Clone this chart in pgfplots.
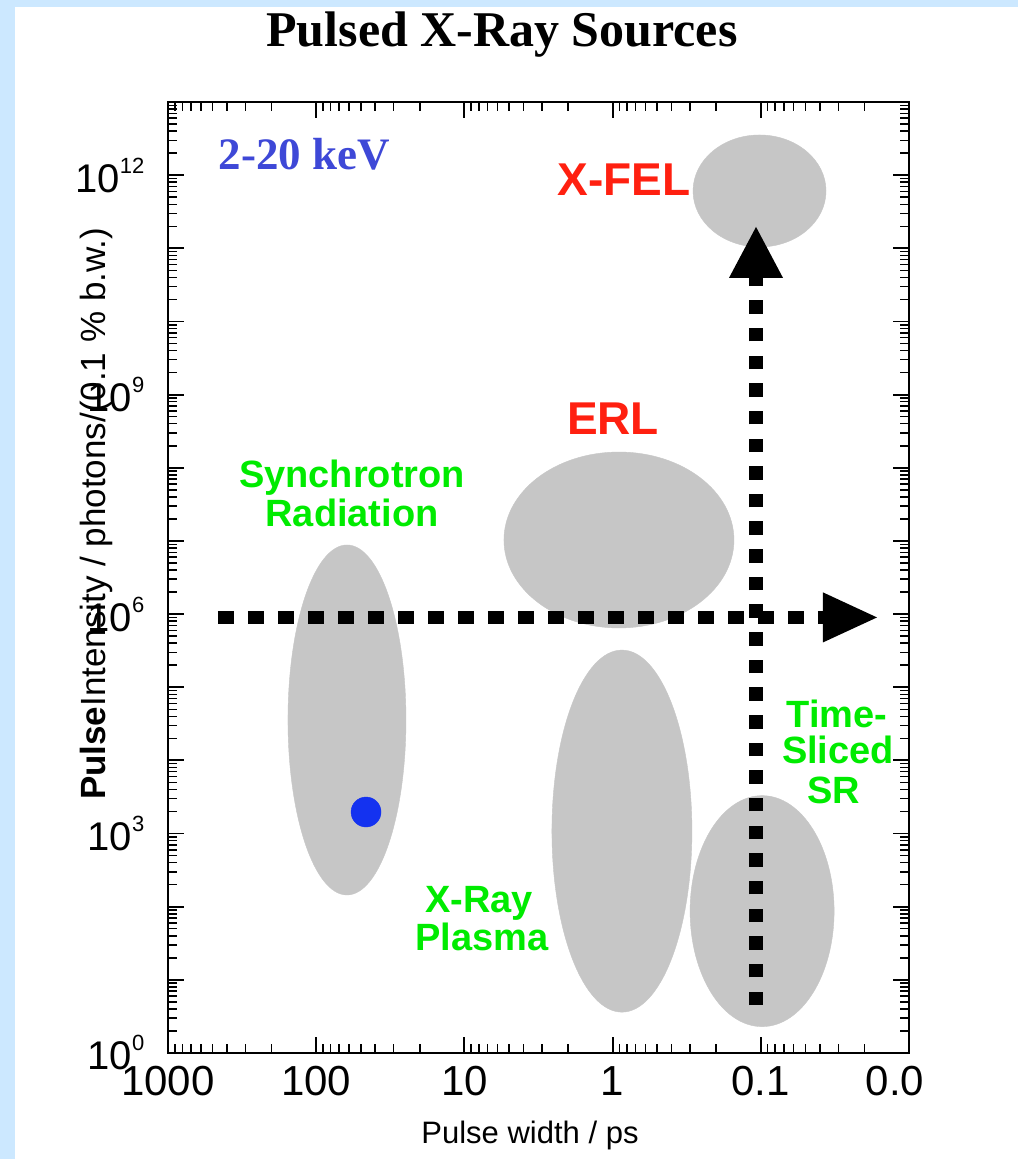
\documentclass[border=0pt]{standalone}
\usepackage{fontspec}
\setmainfont{Liberation Sans}
\newfontfamily\timesf{Liberation Serif}
\usepackage{pgfplots}
\pgfplotsset{compat=1.18}
\definecolor{bgblue}{RGB}{204,232,255}
\definecolor{ellgrey}{RGB}{198,198,198}
\definecolor{lblgreen}{RGB}{0,235,0}
\definecolor{lblred}{RGB}{255,32,16}
\definecolor{kevblue}{RGB}{62,72,215}
\definecolor{dotblue}{RGB}{20,50,240}
\newcommand{\ylab}[1]{10\raisebox{19pt}{\fontsize{22}{22}\selectfont #1}}
\begin{document}
\begin{tikzpicture}
\fill[bgblue] (0pt,0pt) rectangle (1018pt,-1159pt);
\fill[white] (15pt,-7pt) rectangle (1018pt,-1159pt);
\begin{axis}[
  at={(168pt,-1053pt)}, anchor=south west,
  scale only axis, width=741pt, height=951pt,
  xmode=log, ymode=log, x dir=reverse,
  xmin=0.01, xmax=1000, ymin=1, ymax=1e13,
  xtick={0.01,0.1,1,10,100,1000},
  xticklabels={\hspace*{-28pt}0.0,0.1,1,10,100,1000},
  ytick={1e0,1e1,1e2,1e3,1e4,1e5,1e6,1e7,1e8,1e9,1e10,1e11,1e12,1e13},
  yticklabels={\ylab{0},,,\ylab{3},,,\ylab{6},,,\ylab{9},,,\ylab{12},},
  tick align=inside,
  major tick length=16pt, minor tick length=9pt,
  major tick style={black, line width=1.8pt},
  minor tick style={black, line width=1.5pt},
  axis line style={line width=2pt},
  xticklabel style={font=\fontsize{42}{44}\selectfont, yshift=-10pt},
  yticklabel style={font=\fontsize{40}{42}\selectfont, xshift=-20pt},
  /pgf/number format/assume math mode=true,
  clip marker paths=true,
]
% grey regions (centre, half-width in pt, height/width ratio)
\addplot[only marks, mark=*, mark size=59pt, mark options={yscale=2.966, draw=ellgrey, fill=ellgrey}] coordinates {(62,3.57e4)};     % Synchrotron
\addplot[only marks, mark=*, mark size=115pt, mark options={yscale=0.765, draw=ellgrey, fill=ellgrey}] coordinates {(0.906,1.03e7)}; % ERL
\addplot[only marks, mark=*, mark size=70pt, mark options={yscale=2.586, draw=ellgrey, fill=ellgrey}] coordinates {(0.865,1.08e3)}; % Plasma
\addplot[only marks, mark=*, mark size=72pt, mark options={yscale=1.604, draw=ellgrey, fill=ellgrey}] coordinates {(0.098,87)};     % Time-sliced
\addplot[only marks, mark=*, mark size=66.5pt, mark options={yscale=0.842, draw=ellgrey, fill=ellgrey}] coordinates {(0.102,6.08e11)}; % X-FEL
% dashed arrows
\addplot[black, line width=13pt, dash pattern=on 16.5pt off 13.5pt] coordinates {(460,9e5) (0.032,9e5)};
\addplot[black, fill=black, draw=none] coordinates {(0.03805,1.98e6) (0.01644,9e5) (0.03805,4.1e5)};
\addplot[black, line width=13.5pt, dash pattern=on 13.5pt off 14.15pt] coordinates {(0.1077,4.53) (0.1077,4.75e10)};
\addplot[black, fill=black, draw=none] coordinates {(0.1639,3.94e10) (0.1077,1.96e11) (0.07082,3.94e10)};
% blue point
\addplot[only marks, mark=*, mark size=15pt, mark options={draw=dotblue, fill=dotblue}] coordinates {(46.1,1.97e3)};
\end{axis}
% texts
\node[anchor=base, font=\timesf\bfseries\fontsize{50}{52}\selectfont] at (502pt,-46pt) {Pulsed X-Ray Sources};
\node[anchor=base west, text=kevblue, font=\timesf\bfseries\fontsize{45}{50}\selectfont] at (215pt,-169pt) {2-20 keV};
\node[anchor=base, text=lblred, font=\bfseries\fontsize{46}{50}\selectfont] at (624pt,-195pt) {X-FEL};
\node[anchor=base, text=lblred, font=\bfseries\fontsize{46}{50}\selectfont] at (613pt,-434pt) {ERL};
\node[anchor=base, text=lblgreen, font=\bfseries\fontsize{38}{40}\selectfont] at (352pt,-487pt) {Synchrotron};
\node[anchor=base, text=lblgreen, font=\bfseries\fontsize{38}{40}\selectfont] at (352pt,-526pt) {Radiation};
\node[anchor=base, text=lblgreen, font=\bfseries\fontsize{38}{40}\selectfont] at (479pt,-912pt) {X-Ray};
\node[anchor=base, text=lblgreen, font=\bfseries\fontsize{38}{40}\selectfont] at (482pt,-950pt) {Plasma};
\node[anchor=base, text=lblgreen, font=\bfseries\fontsize{38}{40}\selectfont] at (837pt,-727pt) {Time-};
\node[anchor=base, text=lblgreen, font=\bfseries\fontsize{38}{40}\selectfont] at (838pt,-763pt) {Sliced};
\node[anchor=base, text=lblgreen, font=\bfseries\fontsize{38}{40}\selectfont] at (834pt,-803pt) {SR};
\node[anchor=base, font=\fontsize{31}{34}\selectfont] at (530pt,-1143pt) {Pulse width / ps};
\node[anchor=base, rotate=90, font=\fontsize{35}{38}\selectfont] at (105pt,-514pt) {\textbf{Pulse}Intensity / photons/(0.1 \% b.w.)};
\end{tikzpicture}
\end{document}
